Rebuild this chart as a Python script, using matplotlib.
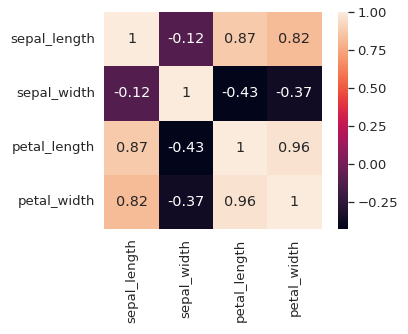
import numpy as np
import pandas as pd
import matplotlib
matplotlib.use("Agg")
import matplotlib.pyplot as plt
import matplotlib.ticker as mticker
import seaborn as sns

features = ['sepal_length', 'sepal_width', 'petal_length', 'petal_width']
sepal_length = [1.0, -0.117570, 0.871754, 0.817941]
sepal_width = [-0.117570, 1.0, -0.428440, -0.366126]
petal_length = [0.871754, -0.428440, 1.0, 0.962865]
petal_width = [0.817941, -0.366126, 0.962865, 1.0]

corr = pd.DataFrame([sepal_length, sepal_width, petal_length, petal_width],
                    index=features, columns=features)

sns.set_theme(font_scale=1.2)

dpi = 72
fig = plt.figure(figsize=(408 / dpi, 334 / dpi), dpi=dpi)
W, H = 408, 334
ax = fig.add_axes([104 / W, (H - 229) / H, 218 / W, 217 / H])
cax = fig.add_axes([338 / W, (H - 229) / H, 10 / W, 217 / H])

sns.heatmap(corr, annot=True, square=True, ax=ax, cbar_ax=cax)
ax.set_position([104 / W, (H - 229) / H, 218 / W, 217 / H])

cax.yaxis.set_major_locator(mticker.MultipleLocator(0.25))
cax.yaxis.set_major_formatter(
    mticker.FuncFormatter(lambda v, p: f"{v:.2f}".replace('-', '\u2212')))

fig.savefig('out.png', dpi=dpi)
